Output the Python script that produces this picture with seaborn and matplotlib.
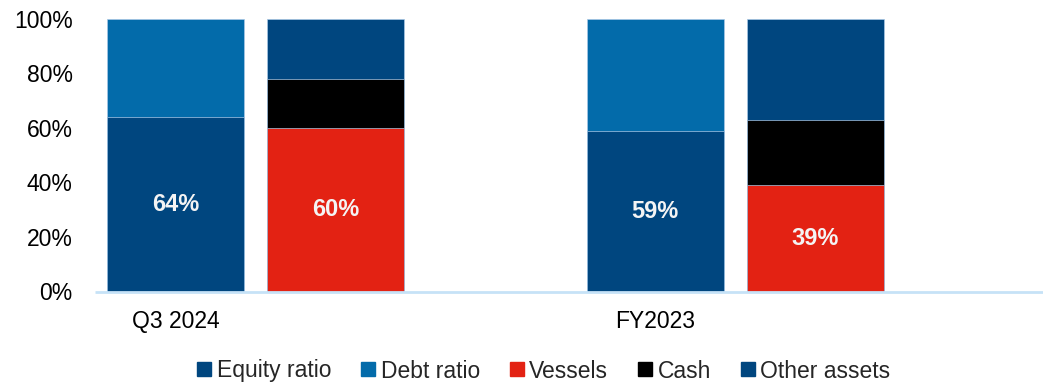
import matplotlib
matplotlib.use("Agg")
import matplotlib.pyplot as plt
from matplotlib.lines import Line2D
import seaborn as sns
import pandas as pd
import numpy as np

# Balance-sheet composition, in percent
periods = ["Q3 2024", "FY2023"]
equity_ratio = [64, 59]
debt_ratio = [36, 41]
vessels = [60, 39]
cash = [18, 24]
other_assets = [22, 37]

colors = {
    "Equity ratio": "#00467F",
    "Debt ratio": "#036BAA",
    "Vessels": "#E32213",
    "Cash": "#000000",
    "Other assets": "#00467F",
}

sns.set_theme(style="white")
plt.rcParams["font.family"] = ["Liberation Sans", "DejaVu Sans"]

fig = plt.figure(figsize=(10.43, 3.85), dpi=100)
ax = fig.add_axes([95 / 1043, 1 - 291.5 / 385, (1043 - 95) / 1043, (291.5 - 18.7) / 385])

group_pos = np.arange(len(periods), dtype=float)
offset = 1 / 3          # right-hand bar sits one third of a group to the right
bar_width = 0.285

funding_x = group_pos
assets_x = group_pos + offset

# Stacks are drawn back to front as cumulative totals
funding_layers = [
    ("Debt ratio", np.add(equity_ratio, debt_ratio)),
    ("Equity ratio", np.array(equity_ratio)),
]
asset_layers = [
    ("Other assets", np.add(np.add(vessels, cash), other_assets)),
    ("Cash", np.add(vessels, cash)),
    ("Vessels", np.array(vessels)),
]

edge = dict(edgecolor="#a9c8e6", linewidth=0.5)

containers = {}
for xs, layers in [(funding_x, funding_layers), (assets_x, asset_layers)]:
    for name, heights in layers:
        df = pd.DataFrame({"x": xs, "value": heights})
        n_before = len(ax.containers)
        sns.barplot(data=df, x="x", y="value", native_scale=True, width=bar_width,
                    color=colors[name], saturation=1, errorbar=None, ax=ax, **edge)
        containers[name] = ax.containers[n_before]

for name in ["Equity ratio", "Vessels"]:
    ax.bar_label(containers[name], fmt="{:.0f}%", label_type="center",
                 color="#f4f4f4", fontsize=17, fontweight="bold")

ax.set_xlim(-0.1674, 1.8077)
ax.set_ylim(0, 100)
ax.set_yticks(range(0, 101, 20))
ax.set_yticklabels([f"{v}%" for v in range(0, 101, 20)])
ax.set_xticks(group_pos)
ax.set_xticklabels(periods)
ax.set_xlabel("")
ax.set_ylabel("")
ax.tick_params(axis="both", length=0, labelsize=16.5, labelcolor="#000000")
ax.tick_params(axis="y", pad=16)
ax.tick_params(axis="x", pad=13)

for side in ["left", "top", "right"]:
    ax.spines[side].set_visible(False)
ax.spines["bottom"].set_color("#c6e2f7")
ax.spines["bottom"].set_linewidth(2)
ax.spines["bottom"].set_capstyle("butt")
ax.grid(False)

handles = [
    Line2D([0], [0], marker="s", linestyle="none", markersize=9.4,
           markerfacecolor=colors[n], markeredgecolor=colors[n], label=n)
    for n in colors
]
fig.legend(handles=handles, loc="center", bbox_to_anchor=(543.9 / 1043, 1 - 371 / 385),
           ncol=5, frameon=False, fontsize=16.5, handlelength=0.6, handletextpad=0.25,
           columnspacing=1.3, borderpad=0, borderaxespad=0)

fig.savefig("out.png", dpi=100)
